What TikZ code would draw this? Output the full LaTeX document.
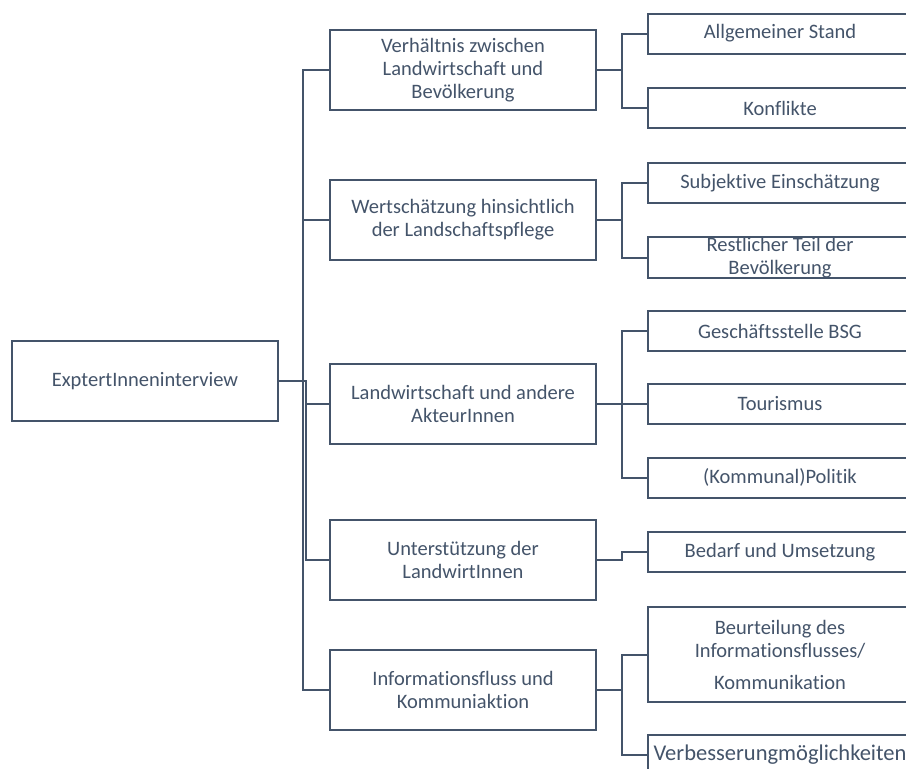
\documentclass[tikz,border=0pt]{standalone}
\usepackage{fontspec}
\setmainfont{Carlito}[Ligatures={NoCommon}]
\definecolor{slate}{HTML}{44546A}
\begin{document}
\begin{tikzpicture}[x=1pt,y=-1pt,
  box/.style={draw=slate,line width=2pt,fill=white,text=slate,align=center,inner sep=0pt,
     font=\fontsize{20.5}{23}\selectfont},
  rootbox/.style={box,minimum width=266pt,minimum height=80pt},
  midbox/.style={box,minimum width=266pt,minimum height=80pt},
  leafbox/.style={box,minimum width=264pt,minimum height=40pt},
  conn/.style={draw=slate,line width=2pt}]
\useasboundingbox (0,0) rectangle (906,769);
\clip (0,0) rectangle (906,769);
\coordinate (tA) at (303,0);
\coordinate (tB) at (306,0);
\coordinate (bR) at (622,0);

\node[rootbox] (root) at (145,381) {ExptertInneninterview};

\node[midbox] (m1) at (463,70) {Verhältnis zwischen\\Landwirtschaft und\\Bevölkerung};
\node[midbox] (m2) at (463,220) {Wertschätzung hinsichtlich\\der Landschaftspflege};
\node[midbox] (m3) at (463,404) {Landwirtschaft und andere\\AkteurInnen};
\node[midbox] (m4) at (463,560) {Unterstützung der\\LandwirtInnen};
\node[midbox] (m5) at (463,690) {Informationsfluss und\\Kommuniaktion};

\node[leafbox] (r11) at (780,33.5) {Allgemeiner Stand};
\node[leafbox] (r12) at (780,108) {Konflikte};
\node[leafbox] (r21) at (780,183) {Subjektive Einschätzung};
\node[leafbox] (r22) at (780,257.5) {Restlicher Teil der\\Bevölkerung};
\node[leafbox] (r31) at (780,331) {Geschäftsstelle BSG};
\node[leafbox] (r32) at (780,404) {Tourismus};
\node[leafbox] (r33) at (780,477.5) {(Kommunal)Politik};
\node[leafbox] (r41) at (780,552) {Bedarf und Umsetzung};
\node[leafbox,minimum height=95pt] (r51) at (780,654.5) {Beurteilung des\\Informationsflusses/\\[9pt]Kommunikation};
\node[leafbox,font=\fontsize{22.5}{25}\selectfont] (r52) at (780,755) {Verbesserungmöglichkeiten};

% root to mid
\draw[conn] (root.east) -- (root.east -| tA) |- (m1.west);
\draw[conn] (root.east) -- (root.east -| tA) |- (m2.west);
\draw[conn] (root.east) -- (root.east -| tB) |- (m3.west);
\draw[conn] (root.east) -- (root.east -| tB) |- (m4.west);
\draw[conn] (root.east) -- (root.east -| tA) |- (m5.west);

% mid to leaves
\draw[conn] (m1.east) -- (m1.east -| bR) |- (r11.west);
\draw[conn] (m1.east) -- (m1.east -| bR) |- (r12.west);
\draw[conn] (m2.east) -- (m2.east -| bR) |- (r21.west);
\draw[conn] (m2.east) -- (m2.east -| bR) |- (r22.west);
\draw[conn] (m3.east) -- (m3.east -| bR) |- (r31.west);
\draw[conn] (m3.east) -- (r32.west);
\draw[conn] (m3.east) -- (m3.east -| bR) |- (r33.west);
\draw[conn] (m4.east) -- (m4.east -| bR) |- (r41.west);
\draw[conn] (m5.east) -- (m5.east -| bR) |- (r51.west);
\draw[conn] (m5.east) -- (m5.east -| bR) |- (r52.west);
\end{tikzpicture}
\end{document}
